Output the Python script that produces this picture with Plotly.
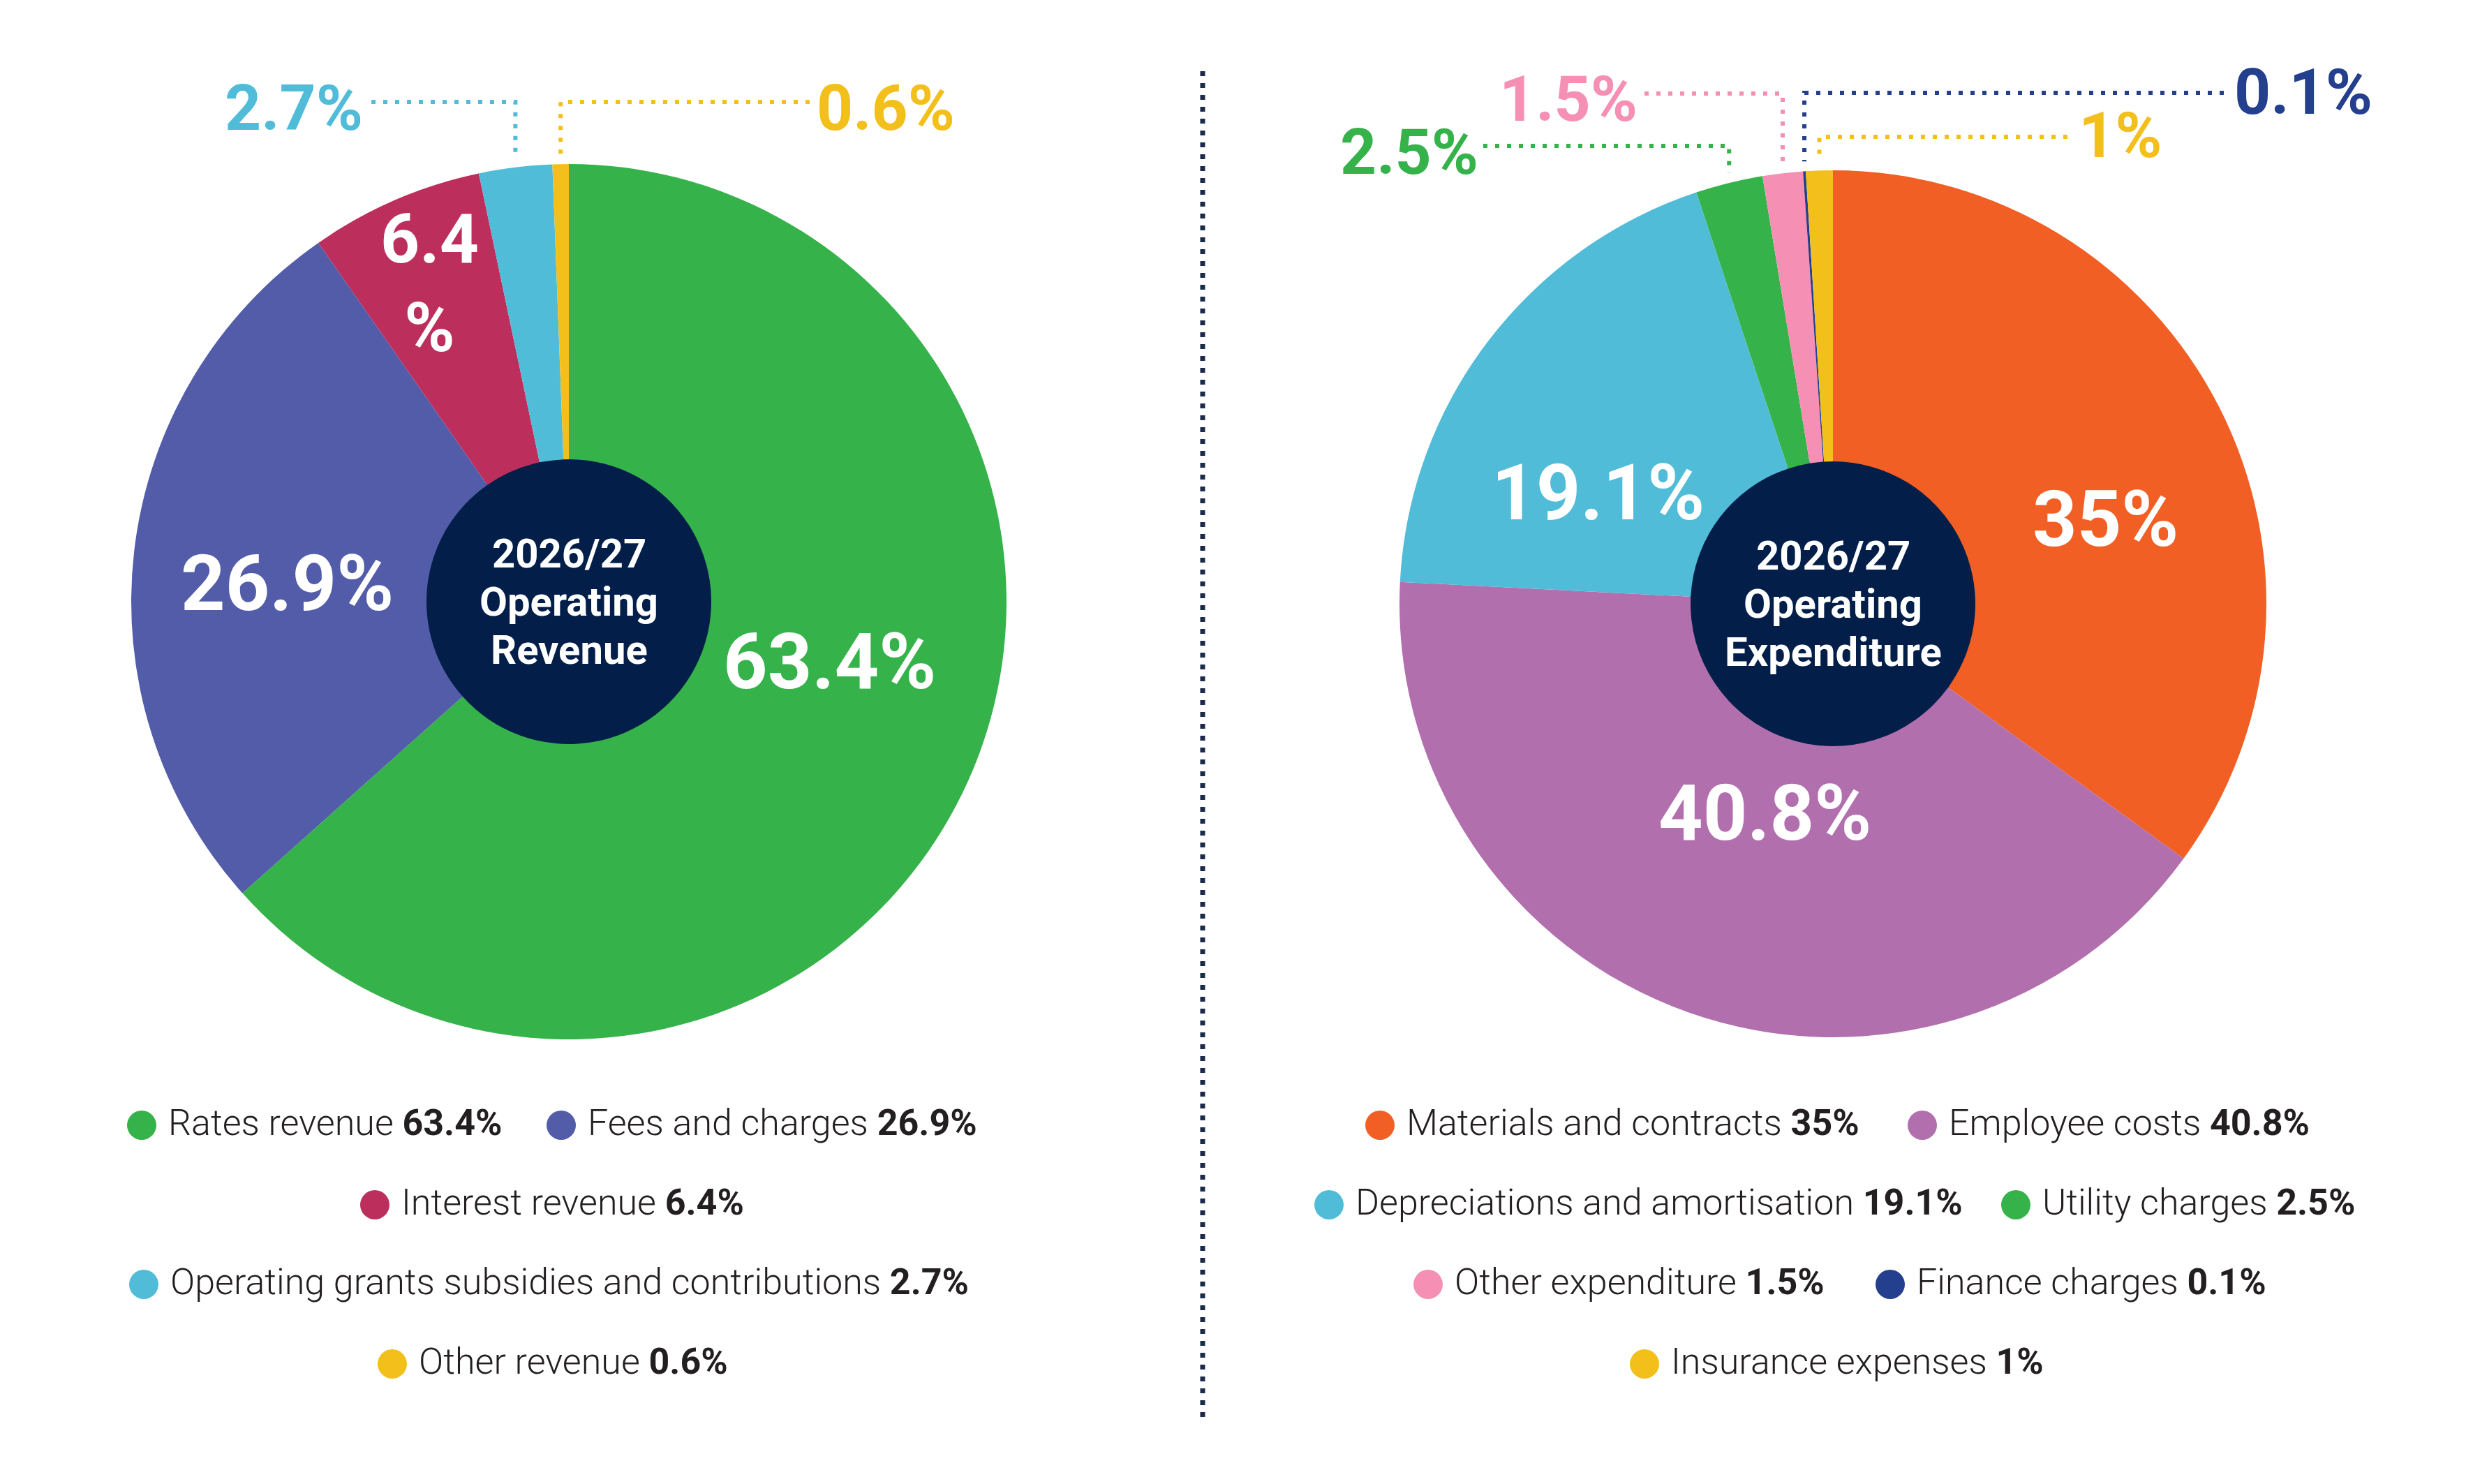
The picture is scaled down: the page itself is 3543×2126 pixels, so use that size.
import math
import plotly.graph_objects as go

W, H = 3543, 2126

# ---------------- data ----------------
rev_labels = ["Rates revenue", "Fees and charges", "Interest revenue",
              "Operating grants subsidies and contributions", "Other revenue"]
rev_values = [63.4, 26.9, 6.4, 2.7, 0.6]
rev_colors = ["#36B24A", "#525CA8", "#BC2F5D", "#51BCD8", "#F3BF1B"]
rev_title = ["2026/27", "Operating", "Revenue"]

exp_labels = ["Materials and contracts", "Employee costs", "Depreciations and amortisation",
              "Utility charges", "Other expenditure", "Finance charges", "Insurance expenses"]
exp_values = [35, 40.8, 19.1, 2.5, 1.5, 0.1, 1]
exp_colors = ["#F15F24", "#B26FAE", "#51BCD8", "#36B24A", "#F590B4", "#233F8E", "#F3BF1B"]
exp_title = ["2026/27", "Operating", "Expenditure"]

HOLE_COLOR = "#031F49"
TEXT_DARK = "#231F20"


def px(x):
    return x / W


def py(y):
    return 1 - y / H


def pct(v):
    return f"{v:g}%"


# ---------------- geometry (pixels) ----------------
L = dict(cx=815, cy=862, r=627, hole_r=204)
R = dict(cx=2626, cy=865, r=621, hole_r=204)

FONT = "Roboto, 'Open Sans', 'DejaVu Sans', sans-serif"

fig = go.Figure()


def add_pie(g, labels, values, colors):
    fig.add_trace(go.Pie(
        labels=labels, values=values, sort=False, direction="clockwise", rotation=0,
        hole=g["hole_r"] / g["r"], textinfo="none", showlegend=False,
        marker=dict(colors=colors, line=dict(width=0)),
        hovertemplate="%{label}: %{value}%<extra></extra>",
        domain=dict(x=[px(g["cx"] - g["r"]), px(g["cx"] + g["r"])],
                    y=[py(g["cy"] + g["r"]), py(g["cy"] - g["r"])]),
    ))


add_pie(L, rev_labels, rev_values, rev_colors)
add_pie(R, exp_labels, exp_values, exp_colors)

shapes = []
annotations = []


def text_ann(text, x, y, size, color, anchor="center", weight=None):
    font = dict(family=FONT, size=size, color=color)
    if weight is not None:
        font["weight"] = weight
    annotations.append(dict(xref="paper", yref="paper", x=px(x), y=py(y), text=text,
                            showarrow=False, xanchor=anchor, yanchor="middle", font=font))


# centre discs + titles
for g, title in ((L, rev_title), (R, exp_title)):
    rr = g["hole_r"] + 2
    shapes.append(dict(type="circle", xref="paper", yref="paper", layer="below",
                       x0=px(g["cx"] - rr), x1=px(g["cx"] + rr),
                       y0=py(g["cy"] + rr), y1=py(g["cy"] - rr),
                       fillcolor=HOLE_COLOR, line=dict(width=0)))
    for k, line in enumerate(title):
        text_ann(f"<b>{line}</b>", g["cx"], g["cy"] + (k - 1) * 69, 58, "white")

# big inside labels: (text, x, y, size)
inside = [
    (pct(rev_values[0]), 1188, 948, 111),
    (pct(rev_values[1]), 411, 836, 111),
    (pct(rev_values[2])[:-1] + "<br>%", 615, 406, 98),
    (pct(exp_values[0]), 3016, 744, 111),
    (pct(exp_values[1]), 2528, 1165, 111),
    (pct(exp_values[2]), 2289, 706, 111),
]
for text, x, y, size in inside:
    text_ann(f"<b>{text}</b>", x, y, size, "white")


# leader callouts for small slices
def leader(g, values, colors, i, y_h, x_end, side, label_x, label_y, gap=14):
    total = sum(values)
    theta = 2 * math.pi * (sum(values[:i]) + values[i] / 2) / total
    xv = g["cx"] + g["r"] * math.sin(theta)
    y_edge = g["cy"] - g["r"] * math.cos(theta)
    path = (f"M {px(x_end)},{py(y_h)} L {px(xv)},{py(y_h)} "
            f"L {px(xv)},{py(y_edge - gap)}")
    shapes.append(dict(type="path", xref="paper", yref="paper", path=path,
                       line=dict(color=colors[i], width=6, dash="6px,11px")))
    text_ann(f"<b>{pct(values[i])}</b>", label_x, label_y, 91, colors[i],
             anchor="right" if side == "left" else "left")


leader(L, rev_values, rev_colors, 3, 146, 532, "left", 522, 155)
leader(L, rev_values, rev_colors, 4, 146, 1160, "right", 1168, 155)
leader(R, exp_values, exp_colors, 3, 209, 2125, "left", 2120, 218)
leader(R, exp_values, exp_colors, 4, 134, 2356, "left", 2348, 142)
leader(R, exp_values, exp_colors, 5, 133, 3186, "right", 3199, 132)
leader(R, exp_values, exp_colors, 6, 196, 2962, "right", 2976, 194)

# divider
shapes.append(dict(type="line", xref="paper", yref="paper",
                   x0=px(1723), x1=px(1723), y0=py(102), y1=py(2035),
                   line=dict(color="#1B2A4A", width=7, dash="7px,10px")))

# custom legends: key-dot x positions per row, row y positions
row_y = [1608, 1722, 1836, 1950]
rev_rows = [[(0, 203), (1, 804)], [(2, 537)], [(3, 206)], [(4, 562)]]
exp_rows = [[(0, 1977), (1, 2754)], [(2, 1904), (3, 2888)], [(4, 2046), (5, 2708)], [(6, 2356)]]
DOT_R = 21


def legend(labels, values, colors, rows):
    for row, y in zip(rows, row_y):
        for i, x in row:
            shapes.append(dict(type="circle", xref="paper", yref="paper",
                               x0=px(x - DOT_R), x1=px(x + DOT_R),
                               y0=py(y + 4 + DOT_R), y1=py(y + 4 - DOT_R),
                               fillcolor=colors[i], line=dict(width=0)))
            text_ann(f"{labels[i]} <b>{pct(values[i])}</b>", x + 36, y, 52, TEXT_DARK,
                     anchor="left", weight=300)


legend(rev_labels, rev_values, rev_colors, rev_rows)
legend(exp_labels, exp_values, exp_colors, exp_rows)

fig.update_layout(width=W, height=H, margin=dict(l=0, r=0, t=0, b=0),
                  paper_bgcolor="white", plot_bgcolor="white",
                  shapes=shapes, annotations=annotations, showlegend=False)

fig.write_html("out.html", config={"displayModeBar": False},
               post_script="document.body.style.margin='0';document.body.style.overflow='hidden';")
